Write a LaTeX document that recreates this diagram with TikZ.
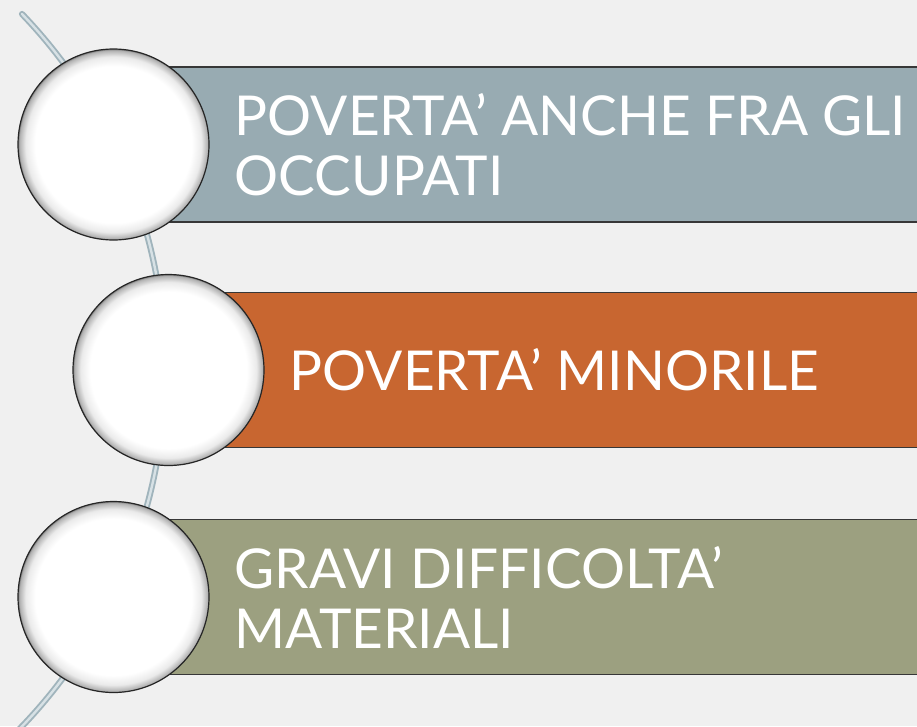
\documentclass[tikz,border=0pt]{standalone}
\usepackage{fontspec}
\setmainfont{Lato}
\usetikzlibrary{positioning}

\definecolor{paper}{RGB}{240,240,240}
\definecolor{slate}{RGB}{152,171,178}
\definecolor{rust}{RGB}{200,102,48}
\definecolor{sage}{RGB}{156,160,128}
\definecolor{wire}{RGB}{160,180,188}
\definecolor{wirein}{RGB}{215,225,229}
\definecolor{rim}{RGB}{55,55,55}

\pgfdeclareradialshading{bead}{\pgfpoint{0bp}{0bp}}{color(0bp)=(white); color(20.5bp)=(white); color(23bp)=(black!8); color(24.6bp)=(black!30); color(25bp)=(black!50); color(50bp)=(black!50)}

\begin{document}
\begin{tikzpicture}[x=1pt,y=-1pt]
	\tikzstyle{bar}=[draw=rim,line width=1.8pt,rectangle,minimum width=760,minimum height=155,inner sep=0pt,anchor=west];
	\tikzstyle{bead}=[circle,draw=black!85,line width=1.2pt,shading=bead,minimum size=191,inner sep=0pt];
	\tikzstyle{caption}=[white,anchor=west,align=left,inner sep=0pt,font=\fontsize{55}{60}\selectfont];

	\fill[paper] (0,0) rectangle (917,726);
	\clip (0,0) rectangle (917,726);

	\coordinate (top) at (22,14);
	\draw[wire,line width=1.9pt,double=wirein,double distance=2.4pt,line cap=round] (top) arc[start angle=-43.8,end angle=48,radius=514.6];

	\coordinate (c1) at (113.5,144.5);
	\coordinate (c2) at (168.5,370);
	\coordinate (c3) at (113.5,597);

	\node[bar,fill=slate] (b1) at ([xshift=55]c1) {};
	\node[bar,fill=rust] (b2) at ([xshift=55]c2) {};
	\node[bar,fill=sage] (b3) at ([xshift=55]c3) {};

	\node[caption] (t1) at ([xshift=121]c1) {POVERTA’ ANCHE FRA GLI\\OCCUPATI};
	\node[caption] (t2) at ([xshift=121]c2) {POVERTA’ MINORILE};
	\node[caption] (t3) at ([xshift=121]c3) {GRAVI DIFFICOLTA’\\MATERIALI};

	\node[bead] (k1) at (c1) {};
	\node[bead] (k2) at (c2) {};
	\node[bead] (k3) at (c3) {};
\end{tikzpicture}
\end{document}
